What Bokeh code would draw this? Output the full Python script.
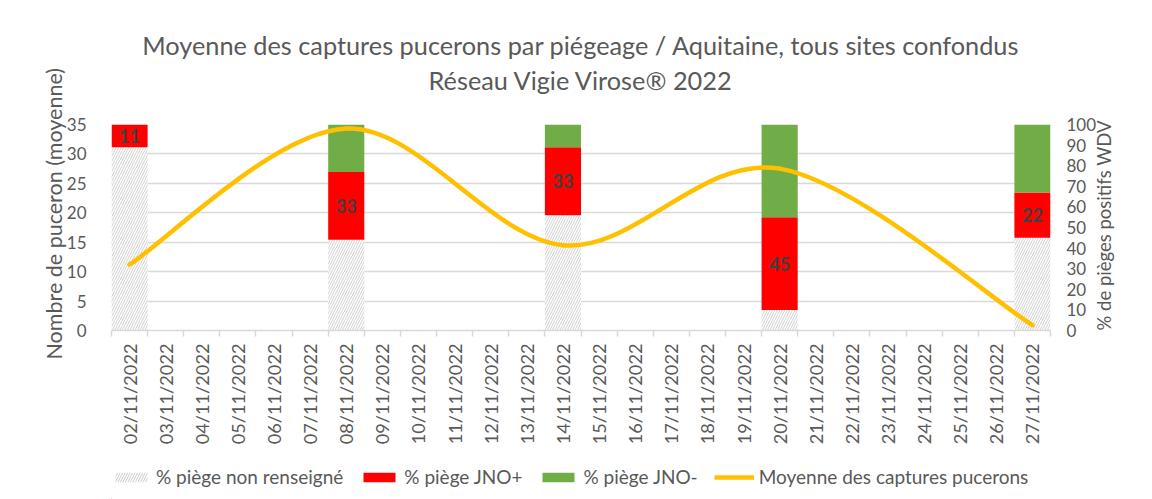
import math
from bokeh.plotting import figure
from bokeh.layouts import column
from bokeh.models import (Range1d, LinearAxis, FixedTicker, ColumnDataSource,
                          Legend, LegendItem, Title)
from bokeh.core.properties import value
from bokeh.embed import file_html
from bokeh.resources import INLINE

# ---------------- data ----------------
dates = ["02/11/2022", "03/11/2022", "04/11/2022", "05/11/2022", "06/11/2022", "07/11/2022",
         "08/11/2022", "09/11/2022", "10/11/2022", "11/11/2022", "12/11/2022", "13/11/2022",
         "14/11/2022", "15/11/2022", "16/11/2022", "17/11/2022", "18/11/2022", "19/11/2022",
         "20/11/2022", "21/11/2022", "22/11/2022", "23/11/2022", "24/11/2022", "25/11/2022",
         "26/11/2022", "27/11/2022"]
trap_dates = ["02/11/2022", "08/11/2022", "14/11/2022", "20/11/2022", "27/11/2022"]
pct_non_renseigne = [89, 44, 56, 10, 45]
pct_jno_plus = [11, 33, 33, 45, 22]
pct_jno_minus = [0, 23, 11, 45, 33]
moyenne_captures = [11.2, 34.3, 14.5, 27.5, 0.9]

left_ticks = [0, 5, 10, 15, 20, 25, 30, 35]
right_ticks = [0, 10, 20, 30, 40, 50, 60, 70, 80, 90, 100]
title_lines = ["Moyenne des captures pucerons par piégeage / Aquitaine, tous sites confondus",
               "Réseau Vigie Virose® 2022"]
series_names = ["% piège non renseigné", "% piège JNO+", "% piège JNO-",
                "Moyenne des captures pucerons"]

FONT = "Lato"
GREY = "#595959"
W = 1152
BAR_COLORS = ["white", "#FF0000", "#70AD47"]
LINE_COLOR = "#FFC000"

# ---------------- main chart ----------------
centers = [i + 0.5 for i in range(len(dates))]
bounds = [float(i) for i in range(len(dates) + 1)]
pos = {d: c for d, c in zip(dates, centers)}
trap_x = [pos[d] for d in trap_dates]

p = figure(width=W, height=460, x_range=Range1d(0, len(dates)), y_range=Range1d(0, 35),
           output_backend="svg", toolbar_location=None, x_axis_location=None,
           min_border_left=111, min_border_right=102, min_border_top=124, min_border_bottom=130,
           outline_line_color=None)
p.extra_y_ranges = {"pct": Range1d(0, 100)}

# titles: spacer nearest the frame, then line 2, then line 1
title_style = dict(align="center", text_font=FONT, text_font_style="normal", text_color=GREY)
p.add_layout(Title(text="\u00a0", standoff=0, text_font_size="23.5px", **title_style), "above")
p.add_layout(Title(text=title_lines[1], standoff=0, text_font_size="25.3px", **title_style), "above")
p.add_layout(Title(text=title_lines[0], standoff=6, text_font_size="25.3px", **title_style), "above")

yl = p.yaxis[0]
yl.ticker = FixedTicker(ticks=left_ticks)
yl.axis_line_color = None
yl.major_tick_line_color = None
yl.minor_tick_line_color = None
yl.major_label_standoff = 19
yl.major_label_text_font = FONT
yl.major_label_text_font_size = "17px"
yl.major_label_text_color = GREY
yl.axis_label = "\u00a0\u00a0\u00a0\u00a0\u00a0\u00a0Nombre de puceron  (moyenne)"
yl.axis_label_text_font = FONT
yl.axis_label_text_font_size = "21.5px"
yl.axis_label_text_font_style = "normal"
yl.axis_label_text_color = GREY
yl.axis_label_standoff = -3
p.ygrid.ticker = FixedTicker(ticks=left_ticks)
p.ygrid.grid_line_color = "#d9d9d9"
p.ygrid.grid_line_width = 1.5
p.xgrid.visible = False

yr = LinearAxis(y_range_name="pct", ticker=FixedTicker(ticks=right_ticks),
                axis_line_color=None, major_tick_line_color=None, minor_tick_line_color=None,
                major_label_standoff=10, major_label_text_font=FONT,
                major_label_text_font_size="17px", major_label_text_color=GREY,
                axis_label="% de pièges  positifs WDV", axis_label_text_font=FONT,
                axis_label_text_font_size="18.5px", axis_label_text_font_style="normal",
                axis_label_text_color=GREY, axis_label_standoff=5)
try:
    yr.axis_label_orientation = math.pi / 2
    yr.axis_label_align = "start"
except Exception:
    pass
p.add_layout(yr, "right")

xa = LinearAxis(ticker=FixedTicker(ticks=centers, minor_ticks=bounds),
                major_label_overrides={c: d for c, d in zip(centers, dates)},
                major_label_orientation=math.pi / 2, major_tick_line_color=None,
                minor_tick_in=0, minor_tick_out=6, minor_tick_line_color="#d9d9d9",
                minor_tick_line_width=1.5,
                axis_line_color="#d9d9d9", axis_line_width=1.5,
                major_label_standoff=7, major_label_text_font=FONT,
                major_label_text_font_size="18.2px", major_label_text_color=GREY)
p.add_layout(xa, "below")

src = ColumnDataSource(dict(x=trap_x, nr=pct_non_renseigne, jp=pct_jno_plus, jm=pct_jno_minus))
bars = p.vbar_stack(["nr", "jp", "jm"], x="x", width=1.0, source=src, y_range_name="pct",
                    fill_color=BAR_COLORS, line_color=None)
bars[0].glyph.hatch_pattern = "/"
bars[0].glyph.hatch_color = "#cfcfcf"
bars[0].glyph.hatch_scale = 5
bars[0].glyph.hatch_weight = 1

lab_src = ColumnDataSource(dict(
    x=trap_x,
    y=[a + b / 2 for a, b in zip(pct_non_renseigne, pct_jno_plus)],
    t=[str(v) for v in pct_jno_plus]))
p.text(x="x", y="y", text="t", source=lab_src, y_range_name="pct", text_align="center",
       text_baseline="middle", text_font=value(FONT), text_font_style="bold",
       text_font_size="18px", text_color="#404040")

# smoothed line (Catmull-Rom style bezier segments through the data points)
pts = list(zip(trap_x, moyenne_captures))
n = len(pts)
seg = dict(x0=[], y0=[], x1=[], y1=[], cx0=[], cy0=[], cx1=[], cy1=[])
for i in range(n - 1):
    pa = pts[i - 1] if i > 0 else pts[i]
    pb = pts[i]
    pc = pts[i + 1]
    pd = pts[i + 2] if i + 2 < n else pts[i + 1]
    seg["x0"].append(pb[0]); seg["y0"].append(pb[1])
    seg["x1"].append(pc[0]); seg["y1"].append(pc[1])
    seg["cx0"].append(pb[0] + (pc[0] - pa[0]) / 6); seg["cy0"].append(pb[1] + (pc[1] - pa[1]) / 6)
    seg["cx1"].append(pc[0] - (pd[0] - pb[0]) / 6); seg["cy1"].append(pc[1] - (pd[1] - pb[1]) / 6)
p.bezier(x0="x0", y0="y0", x1="x1", y1="y1", cx0="cx0", cy0="cy0", cx1="cx1", cy1="cy1",
         source=ColumnDataSource(seg), line_color=LINE_COLOR, line_width=4.5, line_cap="round")

# ---------------- legend strip ----------------
lf = figure(width=W, height=39, x_range=Range1d(0, 100), y_range=Range1d(0, 39),
            output_backend="svg", toolbar_location=None, min_border=0)
lf.xaxis.visible = False
lf.yaxis.visible = False
lf.grid.visible = False
lf.outline_line_color = None
# legend keys (outside the visible range; only their legend swatches show)
k0 = lf.vbar(x=[-50], top=[1], width=1, fill_color=BAR_COLORS[0], line_color=None,
             hatch_pattern="/", hatch_color="#c8c8c8", hatch_scale=5, hatch_weight=1)
k1 = lf.vbar(x=[-50], top=[1], width=1, fill_color=BAR_COLORS[1], line_color=None)
k2 = lf.vbar(x=[-50], top=[1], width=1, fill_color=BAR_COLORS[2], line_color=None)
k3 = lf.line(x=[-60, -50], y=[1, 1], line_color=LINE_COLOR, line_width=4.5)
legend = Legend(items=[LegendItem(label=s, renderers=[r])
                       for s, r in zip(series_names, [k0, k1, k2, k3])],
                orientation="horizontal", location=(0, 11), glyph_width=40, glyph_height=12,
                label_standoff=5, spacing=16, padding=0, margin=0, border_line_color=None,
                background_fill_alpha=0, label_text_font=FONT, label_text_font_size="19px",
                label_text_color=GREY)
lf.add_layout(legend)

layout = column(p, lf, spacing=0)
open("out.html", "w").write(file_html(layout, INLINE))
